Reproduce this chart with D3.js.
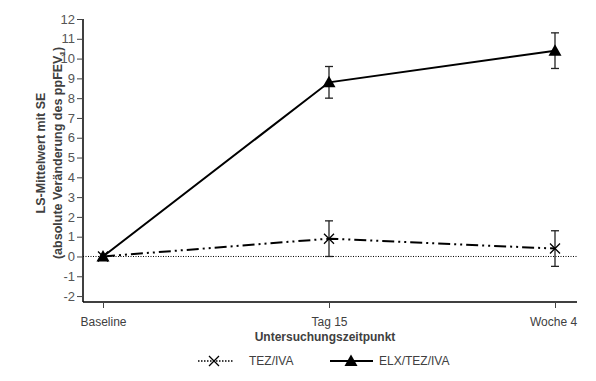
<!DOCTYPE html>
<html>
<head>
<meta charset="utf-8">
<script src="https://cdn.jsdelivr.net/npm/d3@7"></script>
<style>
  body { margin: 0; background: #fff; }
  svg text { font-family: "Liberation Sans", Arial, sans-serif; }
</style>
</head>
<body>
<svg width="596" height="381"></svg>
<script>
// data
var timepoints = ["Baseline", "Tag 15", "Woche 4"];
var tezIva = [0, 0.9, 0.4];
var tezIvaSE = [0, 0.9, 0.9];
var elxTezIva = [0, 8.8, 10.4];
var elxTezIvaSE = [0, 0.8, 0.9];
var yTicks = [-2, -1, 0, 1, 2, 3, 4, 5, 6, 7, 8, 9, 10, 11, 12];

var svg = d3.select("svg");
var textCol = "#404040";

var x = d3.scalePoint().domain(timepoints).range([103, 555]);
var y = d3.scaleLinear().domain([-2.3, 12]).range([302, 19]);

// axes
var yAxis = svg.append("g")
    .attr("transform", "translate(83,0)")
    .call(d3.axisLeft(y).tickValues(yTicks).tickSize(6).tickPadding(2)
        .tickFormat(function (d) { return String(d); }));
yAxis.attr("font-family", null).attr("font-size", null);
yAxis.select(".domain").attr("d", "M0," + y(12) + "V" + y(-2.3)).attr("stroke", "#000").attr("stroke-width", 1.5);
yAxis.selectAll(".tick line").attr("stroke", "#444");
yAxis.selectAll("text").attr("fill", "#555").style("font-size", "13px");

var xAxis = svg.append("g")
    .attr("transform", "translate(0,302)")
    .call(d3.axisBottom(x).tickSize(6).tickPadding(9));
xAxis.attr("font-family", null).attr("font-size", null);
xAxis.select(".domain").attr("d", "M83,0H577").attr("stroke", "#000").attr("stroke-width", 1.5);
xAxis.selectAll(".tick line").attr("stroke", "#444");
xAxis.selectAll("text").attr("fill", textCol).style("font-size", "12px");
xAxis.selectAll(".tick text").filter(function (d) { return d === "Woche 4"; }).attr("dx", -2);

// zero reference line
svg.append("line")
    .attr("x1", 83).attr("x2", 577)
    .attr("y1", y(0)).attr("y2", y(0))
    .attr("stroke", "#000").attr("stroke-width", 1)
    .attr("stroke-dasharray", "1,1.5");

// axis titles
svg.append("text")
    .attr("x", 325).attr("y", 341)
    .attr("text-anchor", "middle")
    .attr("font-weight", "bold")
    .attr("fill", textCol)
    .style("font-size", "12px")
    .text("Untersuchungszeitpunkt");

var yTitle = svg.append("g").attr("transform", "translate(0,153) rotate(-90)");
yTitle.append("text")
    .attr("x", 0).attr("y", 45)
    .attr("text-anchor", "middle")
    .attr("font-weight", "bold").attr("fill", textCol)
    .style("font-size", "12.5px")
    .text("LS-Mittelwert mit SE");
var t2 = yTitle.append("text")
    .attr("x", 0).attr("y", 62)
    .attr("text-anchor", "middle")
    .attr("font-weight", "bold").attr("fill", textCol)
    .style("font-size", "12.5px");
t2.append("tspan").text("(absolute Veränderung des ppFEV");
t2.append("tspan").attr("dy", 3).style("font-size", "8px").text("1");
t2.append("tspan").attr("dy", -3).text(")");

function drawSeries(vals, se, dash, marker) {
    var pts = timepoints.map(function (t, i) { return { t: t, v: vals[i], se: se[i] }; });
    svg.append("path")
        .datum(pts)
        .attr("fill", "none")
        .attr("stroke", "#000")
        .attr("stroke-width", 2)
        .attr("stroke-dasharray", dash)
        .attr("d", d3.line().x(function (d) { return x(d.t); }).y(function (d) { return y(d.v); }));

    var eb = svg.append("g").selectAll("g")
        .data(pts.filter(function (d) { return d.se > 0; }))
        .enter().append("g").attr("stroke", "#222").attr("stroke-width", 1.3);
    eb.append("line")
        .attr("x1", function (d) { return x(d.t); }).attr("x2", function (d) { return x(d.t); })
        .attr("y1", function (d) { return y(d.v + d.se); }).attr("y2", function (d) { return y(d.v - d.se); });
    eb.append("line")
        .attr("x1", function (d) { return x(d.t) - 4; }).attr("x2", function (d) { return x(d.t) + 4; })
        .attr("y1", function (d) { return y(d.v + d.se); }).attr("y2", function (d) { return y(d.v + d.se); });
    eb.append("line")
        .attr("x1", function (d) { return x(d.t) - 4; }).attr("x2", function (d) { return x(d.t) + 4; })
        .attr("y1", function (d) { return y(d.v - d.se); }).attr("y2", function (d) { return y(d.v - d.se); });

    pts.forEach(function (d) { marker(svg, x(d.t), y(d.v)); });
}

function crossMarker(g, cx, cy) {
    g.append("path")
        .attr("d", "M" + (cx - 5) + "," + (cy - 5) + "L" + (cx + 5) + "," + (cy + 5) +
            "M" + (cx - 5) + "," + (cy + 5) + "L" + (cx + 5) + "," + (cy - 5))
        .attr("stroke", "#000").attr("stroke-width", 1.3).attr("fill", "none");
}
function triMarker(g, cx, cy) {
    g.append("path")
        .attr("transform", "translate(" + cx + "," + cy + ")")
        .attr("d", "M0,-6.5L6.5,5H-6.5Z")
        .attr("fill", "#000");
}

drawSeries(tezIva, tezIvaSE, "12,4,2,4,2,4", crossMarker);
drawSeries(elxTezIva, elxTezIvaSE, null, triMarker);

// legend
var lg = svg.append("g").attr("transform", "translate(0,361)");
lg.append("line").attr("x1", 198).attr("x2", 233).attr("y1", 0).attr("y2", 0)
    .attr("stroke", "#000").attr("stroke-width", 1.5).attr("stroke-dasharray", "1.5,1.5");
crossMarker(lg, 214, 0);
lg.append("text").attr("x", 249).attr("y", 4).attr("fill", textCol)
    .style("font-size", "12px").text("TEZ/IVA");
lg.append("line").attr("x1", 330).attr("x2", 373).attr("y1", 0).attr("y2", 0)
    .attr("stroke", "#000").attr("stroke-width", 2);
triMarker(lg, 351, 0);
lg.append("text").attr("x", 379).attr("y", 4).attr("fill", textCol)
    .style("font-size", "12px").text("ELX/TEZ/IVA");
</script>
</body>
</html>
